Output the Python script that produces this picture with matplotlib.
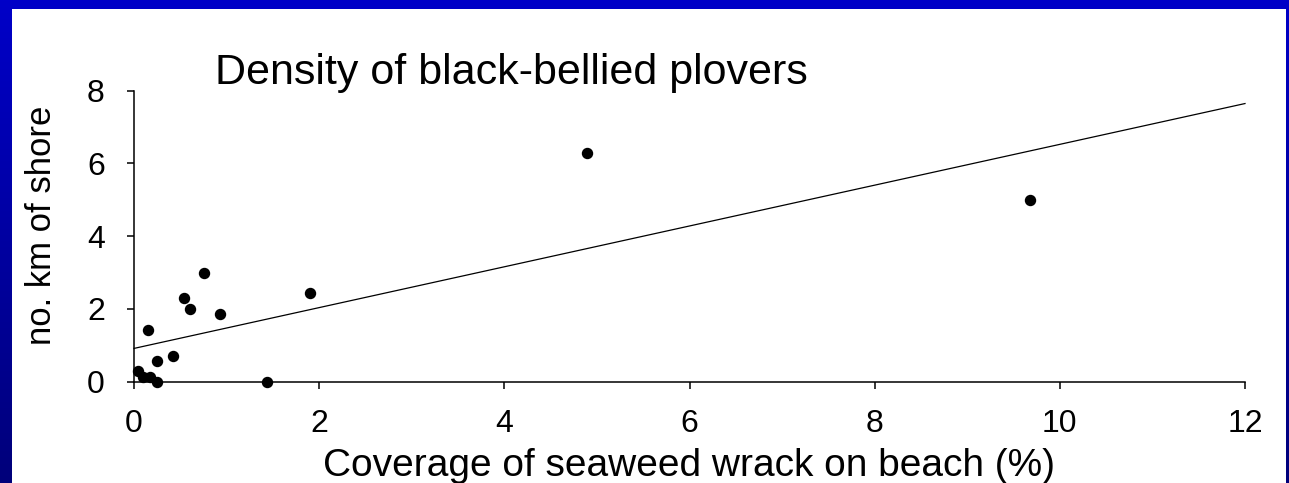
import numpy as np
import matplotlib
matplotlib.use("Agg")
from matplotlib import pyplot as plt
from matplotlib.patches import Rectangle

plt.rcParams['font.family'] = ['Liberation Sans', 'DejaVu Sans']

# Plover density vs wrack coverage
wrack_cover = [0.04, 0.10, 0.17, 0.25, 0.25, 0.15, 0.42, 0.54, 0.60, 0.76, 0.93, 1.44, 1.90, 4.89, 9.68]
plover_density = [0.30, 0.14, 0.14, 0.0, 0.58, 1.43, 0.70, 2.29, 1.99, 3.0, 1.86, 0.0, 2.43, 6.29, 4.99]

# linear trend line shown on the slide
trend_x = [0, 12]
trend_intercept = 0.915
trend_slope = 0.561

x_ticks = [0, 2, 4, 6, 8, 10, 12]
y_ticks = [0, 2, 4, 6, 8]

W, H = 1289, 483
fig = plt.figure(figsize=(W / 100, H / 100), dpi=100)

# blue slide background with white panel
bg = fig.add_axes([0, 0, 1, 1])
grad = np.linspace(0, 1, 256).reshape(-1, 1)
cmap = matplotlib.colors.LinearSegmentedColormap.from_list('slide', ['#0000c8', '#00007a'])
bg.imshow(grad, aspect='auto', cmap=cmap, extent=[0, 1, 0, 1])
bg.set_xlim(0, 1)
bg.set_ylim(0, 1)
bg.axis('off')
bg.add_patch(Rectangle((12 / W, 0), (1286 - 12) / W, (H - 9) / H,
                       facecolor='white', edgecolor='none', transform=bg.transAxes))

left, right = 134 / W, 1245 / W
bottom, top = (H - 381.7) / H, (H - 90.7) / H
ax = fig.add_axes([left, bottom, right - left, top - bottom])
ax.set_facecolor('none')

ax.plot(wrack_cover, plover_density, 'o', color='black', markersize=7.2, clip_on=False, zorder=3)
trend_y = [trend_intercept + trend_slope * v for v in trend_x]
ax.plot(trend_x, trend_y, color='black', linewidth=0.9, clip_on=False)

ax.set_xlim(0, 12)
ax.set_ylim(0, 8)
ax.set_xticks(x_ticks)
ax.set_yticks(y_ticks)
ax.set_xticklabels([str(t) for t in x_ticks])
ax.set_yticklabels([str(t) for t in y_ticks])
for side in ('top', 'right'):
    ax.spines[side].set_visible(False)
for side in ('left', 'bottom'):
    ax.spines[side].set_linewidth(1.1)
ax.tick_params(axis='both', direction='out', length=5, width=1.1, labelsize=23)
ax.tick_params(axis='x', pad=15)
ax.tick_params(axis='y', pad=16)

fig.text(215 / W, (H - 84) / H, 'Density of black-bellied plovers',
         fontsize=31, ha='left', va='baseline')
fig.text(689 / W, (H - 476) / H, 'Coverage of seaweed wrack on beach (%)',
         fontsize=28, ha='center', va='baseline')
fig.text(42 / W, (H - 225) / H, 'no. km of shore',
         fontsize=25, rotation=90, ha='center', va='center')

fig.savefig('out.png', dpi=100)
